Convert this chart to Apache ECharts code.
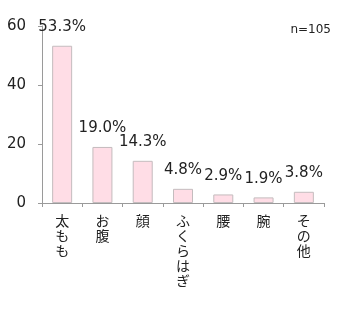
<!DOCTYPE html>
<html><head><meta charset="utf-8">
<script src="https://cdn.jsdelivr.net/npm/echarts@6/dist/echarts.min.js"></script>
<style>html,body{margin:0;padding:0;background:#fff}#c{width:344px;height:314px}</style>
</head><body><div id="c"></div>
<script>
const categories = ['太もも','お腹','顔','ふくらはぎ','腰','腕','その他'];
const values = [53.3, 19.0, 14.3, 4.8, 2.9, 1.9, 3.8];
const yTicks = [0, 20, 40, 60];
const note = 'n=105';

const chart = echarts.init(document.getElementById('c'), null, {renderer:'canvas'});
chart.setOption({
  animation:false,
  grid:{left:42, right:20, top:26, bottom:111, containLabel:false},
  graphic:[{type:'text', right:13, top:24, style:{text:note, font:'12px "DejaVu Sans"', fill:'#222'}}],
  xAxis:{type:'category', data:categories,
    axisLine:{lineStyle:{color:'#9a9a9a', width:1}},
    axisTick:{show:true, length:4, lineStyle:{color:'#9a9a9a'}},
    axisLabel:{interval:0, margin:10, color:'#222', fontSize:14, lineHeight:15,
      fontFamily:'"Noto Sans CJK JP"', verticalAlign:'top',
      formatter:v=>v.split('').join('\n')}},
  yAxis:{type:'value', min:0, max:60, interval:20,
    axisLine:{show:true, lineStyle:{color:'#9a9a9a'}},
    axisTick:{show:true, length:4, inside:false, lineStyle:{color:'#9a9a9a'}},
    splitLine:{show:false},
    axisLabel:{color:'#222', fontSize:15, fontFamily:'"DejaVu Sans"', margin:16,
      formatter:v=>yTicks.includes(v)?String(v):''}},
  series:[{type:'bar', data:values, barWidth:20,
    itemStyle:{color:'#ffdde6', borderColor:'#c4bcbe', borderWidth:1},
    label:{show:true, position:'top', distance:11, color:'#222', fontSize:15,
      fontFamily:'"DejaVu Sans"', formatter:p=>p.value.toFixed(1)+'%'}}]
});
</script></body></html>
